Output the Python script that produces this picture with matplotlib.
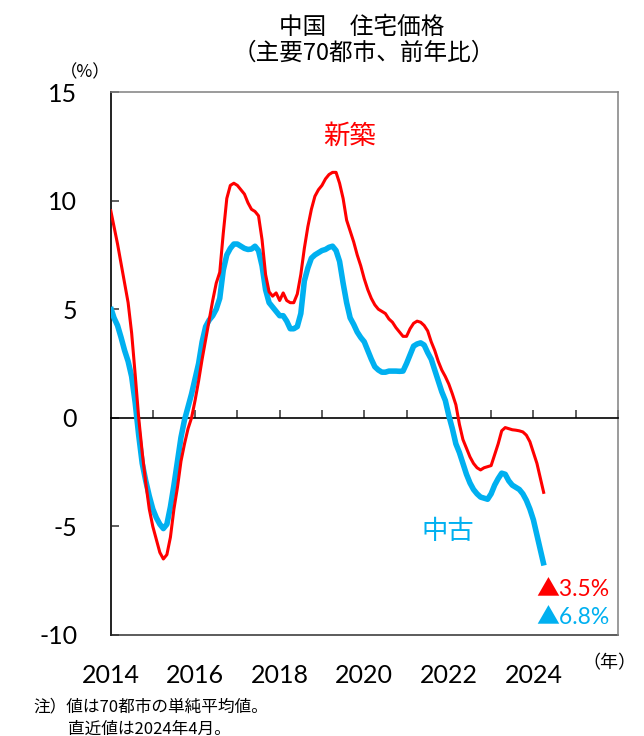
import matplotlib
matplotlib.use("Agg")
import matplotlib.pyplot as plt
import numpy as np

plt.rcParams['font.family'] = ['Lato', 'Noto Sans CJK JP', 'DejaVu Sans']

# Monthly year-on-year change (%), Jan 2014 .. Apr 2024
new_homes = [
    9.6, 8.8, 8.0, 7.1, 6.2, 5.3, 3.9, 2.0, 0.0, -1.6, -3.0, -4.2,
    -5.0, -5.6, -6.2, -6.5, -6.3, -5.5, -4.2, -3.2, -2.0, -1.2, -0.5, 0.0,
    0.8, 1.7, 2.7, 3.6, 4.5, 5.4, 6.2, 6.7, 8.5, 10.1, 10.7, 10.8,
    10.7, 10.5, 10.3, 9.9, 9.6, 9.5, 9.3, 8.2, 6.6, 5.8, 5.6, 5.75,
    5.4, 5.75, 5.4, 5.3, 5.3, 5.7, 6.6, 7.8, 8.8, 9.6, 10.2, 10.5,
    10.7, 11.0, 11.2, 11.3, 11.3, 10.8, 10.1, 9.1, 8.6, 8.1, 7.5, 7.0,
    6.4, 5.9, 5.5, 5.2, 5.0, 4.9, 4.8, 4.55, 4.4, 4.15, 3.95, 3.75,
    3.75, 4.1, 4.35, 4.45, 4.4, 4.25, 4.0, 3.5, 3.1, 2.6, 2.2, 1.9,
    1.55, 1.1, 0.6, -0.3, -1.0, -1.4, -1.8, -2.1, -2.3, -2.4, -2.3, -2.25,
    -2.2, -1.7, -1.2, -0.6, -0.45, -0.5, -0.55, -0.57, -0.6, -0.65, -0.8, -1.1,
    -1.6, -2.1, -2.8, -3.5,
]
used_homes = [
    5.1, 4.6, 4.25, 3.7, 3.1, 2.6, 1.9, 0.7, -0.8, -2.1, -2.9, -3.6,
    -4.2, -4.6, -4.9, -5.1, -4.9, -4.1, -3.1, -2.0, -0.9, -0.1, 0.5, 1.1,
    1.8, 2.5, 3.5, 4.2, 4.5, 4.7, 5.0, 5.5, 6.8, 7.5, 7.8, 8.0,
    8.0, 7.9, 7.8, 7.75, 7.77, 7.9, 7.7, 7.0, 5.9, 5.3, 5.1, 4.9,
    4.7, 4.7, 4.45, 4.1, 4.1, 4.2, 4.8, 6.3, 6.9, 7.35, 7.5, 7.6,
    7.7, 7.75, 7.85, 7.9, 7.7, 7.2, 6.2, 5.3, 4.6, 4.3, 3.95, 3.7,
    3.5, 3.1, 2.7, 2.35, 2.2, 2.1, 2.1, 2.15, 2.15, 2.15, 2.14, 2.15,
    2.5, 2.9, 3.3, 3.4, 3.45, 3.35, 3.0, 2.7, 2.2, 1.7, 1.2, 0.8,
    0.1, -0.5, -1.2, -1.6, -2.1, -2.6, -3.0, -3.3, -3.5, -3.65, -3.7, -3.75,
    -3.5, -3.1, -2.8, -2.55, -2.6, -2.9, -3.1, -3.2, -3.3, -3.5, -3.8, -4.2,
    -4.7, -5.4, -6.1, -6.8,
]
start_year = 2014
year_labels = [2014, 2016, 2018, 2020, 2022, 2024]
y_ticks = [-10, -5, 0, 5, 10, 15]
label_new = "新築"
label_used = "中古"
latest_new = "▲3.5%"
latest_used = "▲6.8%"

RED = "#FF0000"
BLUE = "#00B0F0"

t = start_year + np.arange(len(new_homes)) / 12.0

fig = plt.figure(figsize=(6.44, 7.36), dpi=100)
ax = fig.add_axes([110.5 / 644, 1 - 635 / 736, 507.5 / 644, 543 / 736])

ax.plot(t, used_homes, color=BLUE, lw=4.0, solid_capstyle='butt', zorder=3)
ax.plot(t, new_homes, color=RED, lw=2.2, solid_capstyle='butt', zorder=4)

ax.set_xlim(2014, 2026)
ax.set_ylim(-10, 15)

# zero line as the x axis with yearly ticks pointing up
ax.spines['bottom'].set_position(('data', 0))
ax.spines['bottom'].set_color('black')
ax.spines['bottom'].set_linewidth(1.2)
ax.set_xticks(np.arange(2014, 2027, 1))
ax.tick_params(axis='x', direction='in', length=6, width=1.1, labelbottom=False,
               color='#333333')

for s in ['top', 'right']:
    ax.spines[s].set_color('#808080')
    ax.spines[s].set_linewidth(1.1)
ax.spines['left'].set_color('#222222')
ax.spines['left'].set_linewidth(1.4)

ax.set_yticks(y_ticks)
ax.set_yticklabels([str(v) for v in y_ticks])
ax.tick_params(axis='y', direction='in', length=6, width=1.1, pad=24,
               labelsize=18, color='#333333')

sec = ax.secondary_xaxis('bottom')
sec.set_xticks(year_labels)
sec.set_xticklabels([str(y) for y in year_labels])
sec.tick_params(length=0, pad=21, labelsize=18)
sec.spines['bottom'].set_color('#404040')
sec.spines['bottom'].set_linewidth(1.2)

ax.text(0.472, 0.919, label_new, transform=ax.transAxes, color=RED,
        fontsize=19, ha='center', va='center', family=['Noto Sans CJK JP'])
ax.text(0.665, 0.1915, label_used, transform=ax.transAxes, color=BLUE,
        fontsize=19, ha='center', va='center', family=['Noto Sans CJK JP'])
ax.text(0.984, 0.0847, latest_new, transform=ax.transAxes, color=RED,
        fontsize=16.5, ha='right', va='center')
ax.text(0.984, 0.0331, latest_used, transform=ax.transAxes, color=BLUE,
        fontsize=16.5, ha='right', va='center')

fig.text(362 / 644, 1 - 27 / 736, "中国　住宅価格", fontsize=17, ha='center',
         va='center', family=['Noto Sans CJK JP'])
fig.text(364 / 644, 1 - 53 / 736, "（主要70都市、前年比）", fontsize=17,
         ha='center', va='center', family=['Noto Sans CJK JP'])
fig.text(85 / 644, 1 - 72 / 736, "（%）", fontsize=12.5, ha='center', va='center',
         family=['Noto Sans CJK JP'])
fig.text(609 / 644, 1 - 663 / 736, "（年）", fontsize=13, ha='center', va='center',
         family=['Noto Sans CJK JP'])
fig.text(33 / 644, 1 - 707 / 736, "注）値は70都市の単純平均値。", fontsize=12,
         ha='left', va='center', family=['Noto Sans CJK JP'])
fig.text(68 / 644, 1 - 729 / 736, "直近値は2024年4月。", fontsize=12,
         ha='left', va='center', family=['Noto Sans CJK JP'])

fig.savefig("out.png", dpi=100)
